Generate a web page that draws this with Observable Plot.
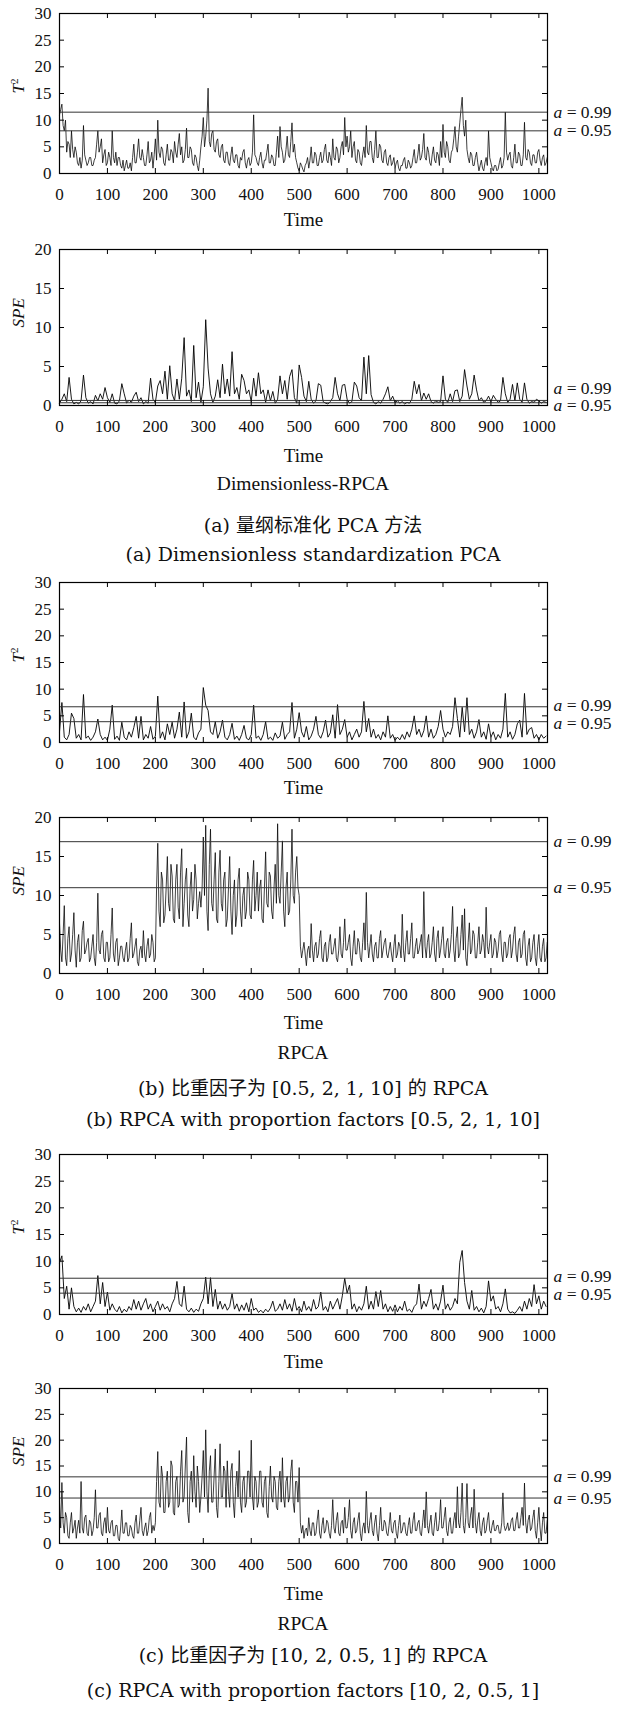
<!DOCTYPE html>
<html><head><meta charset="utf-8">
<script src="https://cdn.jsdelivr.net/npm/d3@7"></script>
<script src="https://cdn.jsdelivr.net/npm/@observablehq/plot@0.6"></script>
<style>
body{margin:0;background:#fff;}
#page{position:relative;width:617px;height:1710px;overflow:hidden;background:#fff;}
.plot{position:absolute;left:0;}
.ttl{position:absolute;left:0;width:606px;text-align:center;white-space:nowrap;line-height:1;transform:translateY(-50%);font-family:'Liberation Serif',serif;font-size:19.5px;color:#111;}
.cap{position:absolute;left:0;width:626px;text-align:center;white-space:nowrap;line-height:1;transform:translateY(-50%);font-family:'DejaVu Serif','Noto Sans CJK SC',serif;font-size:19px;color:#111;}
</style></head><body><div id="page"></div>
<script>
const xTicks = [0,100,200,300,400,500,600,700,800,900,1000];
const yTicks30 = [0,5,10,15,20,25,30];
const yTicks20 = [0,5,10,15,20];

// (a) Dimensionless standardization PCA  (one sample every 2.5 time units)
const t2A = [
11,12,13,9,8,10,4,6,5.5,3,8,4.5,3,5,4,2,1.5,3,1,2.5,9,3.5,2.5,1.5,2,3,3,1.5,1.5,2.5,3,5.5,8,4,5,6.5,2,3.5,4.5,1.5,
2,4,3,1.5,8,3,2,4,1.5,3,3,1.5,1,2.5,0.5,1.5,2.5,1,1,2,0.5,3,5.5,2,2,4,6.5,3,2.5,4.5,3,1.5,1.5,3.5,6,2,2.5,4,1,3.5,
6.5,2.5,10,4,3,5,4.5,2,1.5,3.5,5.5,2.5,2.5,4.5,4,2,6,4,3,5.5,7.5,3.5,5,2,2.5,4.5,8.5,3,3,5,4.5,2,1.5,3.5,3,1.5,0.5,2.5,5,7,
10.5,5,7,10,16,6,5,7.5,8,4.5,4,6,6.5,3.5,3,5,5.5,2.5,2,4,4,2,1.5,3.5,5,2.5,2,3.5,3.5,1.5,1,3,2.5,4,4.5,2,1,2.5,3,1.5,
2,4,11,3.5,3,2,1.5,3,4,2,1,2.5,2.5,4,5.5,2,2,3.5,3,1.5,1.5,4,7,3,8.8,5,4,2,2.5,4.5,7,3.5,3,6,9.5,4,5.5,3,2,1,
0.5,2,1.5,0.8,0.3,1.5,2,3,1,2.5,5,2,2,4,3.5,1.5,1.5,3,4,2,2.5,4.5,5.5,2.5,2,4,3,1.5,6.5,3,2.5,5,4.5,2,3,5,6,3.5,10.5,5,
7,4,5,8,3,5,6,2.5,2,4.5,4,2,1.5,3.5,5,3,9,4,3.5,6,6,3,2,4.5,8,3,3,5.5,5,2.5,2,4,4.5,2,1.5,3,3.5,1.5,2,3,
1,2,2.5,1,0.5,1.5,1.5,2.5,3,1,1,2.5,2,1,1.5,3,4.5,2,2,3.5,5.5,2.5,3,4.5,7.5,3,2.5,5,4,2,1.5,3.5,5,2.5,2,4,3.5,1.5,6,3,
9.2,4,3,6,5,2.5,2,4,4.5,6.5,8.8,5,4,7,9.5,12,14.3,9,7,10,4.5,3,2,4,3.5,1.5,1.5,3,4,2,0.5,1.5,2.5,1,0.5,2,3,1.5,8,3,
2,1,0.5,1.5,1.5,0.5,0.8,2,3,1,1.5,3,11.5,4,2.5,3.5,4,1.5,1,3,5.5,2,2,4,3.5,1.5,1.5,3.5,9.6,3,2.5,4.5,4,2,1.5,3.5,3.5,2,2,4,
4.5,2.5,1.5,3,3.5,1.5,2,3];
const speA = [
0.3,0.8,1.5,0.5,3.6,0.8,0.2,0.4,0.2,0.6,3.9,1,0.3,0.5,0.2,1.3,0.6,1.5,0.8,2.3,
1,0.4,1.5,0.3,0.2,0.6,2.8,1.5,0.3,0.7,0.4,1.2,1.7,0.5,1,0.2,0.5,0.3,3.5,0.8,
0.4,2.5,3.2,1.5,4.4,0.8,5.1,1.5,0.6,3.4,0.8,3.5,8.7,1.2,2,0.5,7.7,1,3,0.4,
2.4,11,4.8,1.5,0.4,1.2,3.3,1,5.3,1.5,3.4,1.2,6.9,1.5,2.3,0.8,4,3.2,1.5,2,
0.5,3.5,1.2,4.2,1.5,2,0.4,2,0.6,1.8,0.3,0.8,3.8,1.5,3.2,0.8,3.7,4.6,1,0.3,
5.2,3.6,1.2,0.5,3.1,0.8,0.3,0.6,2.8,2.6,0.5,0.3,0.2,0.5,1,3.6,1.5,0.6,2.6,2.7,
0.8,0.3,0.5,3,2.5,1,0.6,6.2,1.5,6.4,1.4,0.4,0.2,0.5,0.3,0.8,1.5,2.4,0.6,1.2,
0.4,0.6,0.3,0.5,0.2,0.4,0.3,0.8,3.1,1.5,2.7,0.6,1.6,0.8,1.5,0.5,0.3,0.6,0.4,0.5,
3.8,0.8,0.4,1.5,0.5,1.9,2,0.5,1.2,4.6,2.5,0.8,1.5,3.9,2,0.6,1,0.4,0.6,1.2,
0.5,1.3,0.8,0.4,0.6,3.6,1.5,0.4,0.8,2.7,0.6,2.9,0.8,0.4,2.9,0.8,0.3,0.5,0.4,0.8,
0.6,0.3,0.5,0.4];

// (b) RPCA, proportion factors [0.5, 2, 1, 10]
const t2B = [
2,7.5,1,0.5,1.5,5.5,4.5,0.8,1.5,0.5,9,0.8,1.2,0.4,1,2,4.4,1.5,0.5,1,
0.4,2.5,7,0.6,1.2,0.4,3.8,1,0.5,2,1,2.8,4.9,0.8,4.9,0.5,1.5,0.8,3,0.6,
1.2,8.7,0.8,2,0.5,3.5,1.5,3.8,0.8,2.5,5.7,1,7.6,0.8,2,5.5,1,0.5,1.8,2.5,
10.3,7,6,2,1.5,3.9,0.8,2,4.2,1,0.5,1.5,3.6,0.6,1.2,0.4,1.5,3.2,0.8,0.5,
1.5,7,0.8,1.2,0.4,1.5,3.9,0.6,1,0.4,1.8,0.8,1.2,3.8,0.6,1.5,2,7.5,0.8,2.5,
5.6,2,1,3,0.5,1.2,2.5,4.9,1.5,0.8,2,4.2,1,1.8,5.2,0.8,7.1,1.5,2.5,4.3,
1,2,0.5,1.5,2.5,1,2,7.7,2,4.5,1,2.5,0.8,1.5,0.5,2,1,5,0.8,1.5,
0.4,1,0.5,1.5,0.6,2,1,2.5,5,1.5,2.5,1,2.2,5,1,2.5,0.8,1.5,3,6,
2.5,1,2,1.5,3,8.4,4.5,1,6.6,2,8.4,1.5,2.5,0.8,2,4.3,1,2,0.6,3.5,
1,2,0.5,1.5,0.8,2.5,9.2,1,2,0.6,1.5,3.5,4.2,1,9.2,1.5,2.5,2.8,0.8,1.5,
0.5,1.5,0.8,1.2];
// one sample every 2.5 time units
const speB = [
6.5,3,1.5,5,8.7,2,1,4.5,6,1.5,2.5,5,7.8,3,0.8,4,5,1.5,2,5.5,6.7,2.5,3,4,4.5,1.5,2,3.5,5,2,1,4,10.3,3,2.5,5,5.5,2,1.5,4,
4,1.5,2,5,8.4,2.5,1.5,4,4.5,1,2,3.5,3.5,2,1.5,3,4,1.5,2,4.5,6.5,2,2.5,3.5,4.5,1.5,1,3,3.5,2,5.5,2.5,1.5,3.5,4.5,2,2.5,5,4,1.5,
2,11,16.7,8,6,13,12,6.5,7.5,11,15,9,8,14,12.5,7,6.5,12,14,8.5,7,13,16,6,9,12,13.5,7.5,6,11,13,8,9.5,14,12,7,9,10.5,8.5,11,
17.5,10,19,8,5.5,14,18.5,9,8,12,15.5,7,6.5,13,15.8,9,8,12,13,6,7,11,15,8,5,10,12,6,7.5,12,13.5,8,6,10,11,7,8,13,12,7.5,
7,12,14.5,8,10,13,8,11,12,7,6.5,11,15.6,9,8.5,13,12.5,8,7,11,14,9,19.2,10,9,13,17,8,6,11,13,7.5,8,12,18.5,10,9,13,15,11,
10,3.5,2,3,4,2.5,1,3,3.5,2,6.4,3,1.5,3.5,4,2,2.5,4.5,5.5,2,1.5,3.5,4,1.5,2,4,5,2.5,2.5,3.5,4.5,2,1.5,3,6,2.5,2,4,7,3,
3,4,5,2,1,3.5,5.5,2.5,2.5,4.5,4,2,1.5,4,6.5,3,10.4,4,2,3.5,5,2.5,1.5,3.5,4,2,2,4.5,5.5,2,3,4,4.5,2.5,2,3,4,2.5,1.5,3.5,
5,2,2.5,4,3.5,2,7.6,3,1.5,4,5.5,2.5,2.5,4.5,6.5,2,2,3.5,4.5,2.5,3,4,5,2,10.5,3.5,2,4,5,2,2.5,4,6,2.5,1.5,4.5,5.5,2,3,4.5,
6,2.5,2,4,4.5,2,3,5,8.6,3,1.5,4.5,6,2,2.5,5,7.5,3,8.3,2,1,4,6.5,2.5,3,5.5,5,2,2,4,6,2.5,3,5,4,2,8.5,3.5,2.5,4,
5,2,2.5,4.5,4,2,3,5,5.5,2.5,1.5,4,4,2,2.5,4.5,5,2,3,5,6,2.5,1.5,4,4.5,2,2.5,5,5.5,2,1,3.5,4.5,1.5,2,4,5,2,1,3.5,
5,2,1.5,3.5,4.5,1.5,2,4];

// (c) RPCA, proportion factors [10, 2, 0.5, 1]
const t2C = [
9.7,11,3,5.3,1,5,1.5,0.5,1.2,0.4,1.5,0.8,2,0.5,1.5,2.5,7.3,2,6,1.5,
4.2,0.8,2,1,0.5,1.5,0.3,1,0.5,1.5,0.8,2.8,1,2.5,0.8,2,3,1,2,0.5,
1.5,2.5,0.8,2,1,1.5,0.5,2,3,6.2,2,1.5,5.3,1,0.5,1.2,0.4,1,0.6,2,
3,7,2,6.9,1.5,4.7,1,2.5,1,2,0.8,1.5,3.9,1,2,0.6,1.8,0.8,2.2,0.5,
3,0.8,1.2,0.4,0.8,0.3,1,0.5,1.2,2.5,0.6,1,2,0.8,2.8,1,2,0.6,3,0.8,
1.5,0.5,2.5,0.8,1.5,0.6,2.8,1,1.5,4.2,0.8,1.5,0.5,2.5,1,2,3,1,3.5,6.8,
4,5.5,1,2,0.5,1.5,0.8,2,5.3,1,2.5,1,4.3,1.5,4.5,1,2,0.5,1.5,0.6,
1.8,0.5,1.5,0.8,2.5,0.6,1,0.4,1.5,2,5.7,1,2.5,1.5,3,4.7,1,2,0.8,2.5,
5.5,1,2,0.8,1.5,3,2,9.8,12,6,2.5,1,4.5,0.8,1.5,0.5,1.2,0.3,1.5,6.3,
2.5,3.5,1,1.5,0.5,2,4.8,1,0.3,0.5,0.2,0.8,1.5,0.6,2.5,1,3,1.5,5.6,2,
3.5,1,2.5,1.5];
// one sample every 2.5 time units
const speC = [
8,3,11.8,4,2,6,5,1.5,1,4,6,2,3,4.5,1,3,4.5,2,12,3,2,5,5.5,2,1.5,4.5,4,1.5,2.5,5,10.4,3,3,5.5,6,2,1.5,4,5,2,
7,2.5,2,4,4.5,1.5,1.5,3.5,3.5,1,0.5,3,6.5,2,2,4,4,1.5,1.5,3.5,3,1.5,1,4,5.5,2,2,4.5,7,2.5,1.5,3,4,1.5,2.5,5,6,2,3.5,2.5,
4,12,17.8,8,7,15,13,6,6,12,14,7,8,16,15,6,5.5,12,13,7,7.5,14,18,8,9,15,20.6,6,4,12,14,8,17,10,7,15,12,6,9,13,
18,9,22,10,6,14,17,8,8,13,18.3,7,5,12,19.3,9,9,15,14,7,16,10,7,14,15.5,8,5,11,14,9,18,8,6,12,13,7,8,14,14,9,
20,9,6.5,13,12,7,8,14,14,8,7,12,13,6,5,11,15,9,8,13,12,7,6.5,12,14,8,16.6,9,7,12,13,8,9,14,16.2,8,6,12,12,8,
14.7,4,2,3.5,1,2.5,3,1.5,5,2.5,1.5,4,4,1.5,2,4.5,6.5,2,1,3.5,5,2,2.5,4.5,4,2,1,3.5,8.5,3,2,4.5,6,2,1.5,4,4.5,2,7,3,
3,5,8.5,2.5,1,4,5,2,2.5,4.5,6,2,0.5,3,4,2,10.1,3.5,2,4.5,6,2.5,1.5,4,5.5,2,0.5,3.5,7,2.5,2.5,4.5,4,2,1.5,3.5,6,2.5,2,4,
4.5,2,1,3.5,5.5,2,2.5,4,4,2,1.5,3.5,5,2,2,4.5,6,2.5,2.5,4,4.5,2,1.5,4,6.5,3,10,3.5,2,4,5.5,2,1.5,4,6,2.5,2.5,4.5,8.5,3,
3,5,7,2.5,1.5,4,5,2,2,4.5,6,3,11,4,3,6,11.7,3.5,2,5,11.6,4,3,5.5,7,3,10.5,4,2,4.5,6,2.5,1.5,4,5,2,2.5,4.5,6,2.5,
2,3.5,4.5,2.5,2.5,3.5,3.5,2,2,4,9.8,3.5,2.5,3,4,2.5,3,4.5,5,2.5,2.5,4.5,6,3,3,5,7,3.5,11.7,4,2,4.5,5.5,2.5,3,5,6.5,2.5,1,4,
7,3,0.5,4,6,2,2,4.5];

const panels = [
  {top:13,   fh:160, yMax:30, yTicks:yTicks30, values:t2A,  step:2.5, sw:0.75, th:[11.5,8.0],  yLabel:"T2",  timeDy:52, dys:[0,0]},
  {top:249,  fh:156, yMax:20, yTicks:yTicks20, values:speA, step:5,   sw:0.9,  th:[0.65,0.35], yLabel:"SPE", timeDy:56, dys:[-12,3]},
  {top:582,  fh:160, yMax:30, yTicks:yTicks30, values:t2B,  step:5,   sw:0.9,  th:[6.7,3.9],   yLabel:"T2",  timeDy:51, dys:[-1.5,1.5]},
  {top:817,  fh:156, yMax:20, yTicks:yTicks20, values:speB, step:2.5, sw:0.75, th:[16.9,11.0], yLabel:"SPE", timeDy:55, dys:[0,0]},
  {top:1154, fh:160, yMax:30, yTicks:yTicks30, values:t2C,  step:5,   sw:0.9,  th:[6.8,4.0],   yLabel:"T2",  timeDy:53, dys:[-1.5,1.5]},
  {top:1388, fh:155, yMax:30, yTicks:yTicks30, values:speC, step:2.5, sw:0.75, th:[12.9,8.8],  yLabel:"SPE", timeDy:56, dys:[0,0]}
];
const thLabels = ["a = 0.99", "a = 0.95"];

const titles = [
  {y:484,  text:"Dimensionless-RPCA", cls:"ttl"},
  {y:525,  text:"(a) 量纲标准化 PCA 方法", cls:"cap"},
  {y:554,  text:"(a) Dimensionless standardization PCA", cls:"cap"},
  {y:1053, text:"RPCA", cls:"ttl"},
  {y:1088, text:"(b) 比重因子为 [0.5, 2, 1, 10] 的 RPCA", cls:"cap"},
  {y:1119, text:"(b) RPCA with proportion factors [0.5, 2, 1, 10]", cls:"cap"},
  {y:1624, text:"RPCA", cls:"ttl"},
  {y:1655, text:"(c) 比重因子为 [10, 2, 0.5, 1] 的 RPCA", cls:"cap"},
  {y:1690, text:"(c) RPCA with proportion factors [10, 2, 0.5, 1]", cls:"cap"}
];

const page = document.getElementById("page");
const MT = 12, MB = 70, ML = 59, MR = 70, W = 617;
const FW = W - ML - MR;

panels.forEach(p => {
  const FH = p.fh;
  const data = p.values.map((v, i) => ({t: i * p.step, v}));
  const marks = [
    Plot.line(data, {x: "t", y: "v", stroke: "#000", strokeWidth: p.sw}),
    Plot.ruleY([p.th[0]], {stroke: "#333", strokeWidth: 1}),
    Plot.ruleY([p.th[1]], {stroke: "#333", strokeWidth: 1}),
    Plot.tickX(xTicks, {x: d => d, insetTop: FH - 5, stroke: "#000"}),
    Plot.tickX(xTicks, {x: d => d, insetBottom: FH - 5, stroke: "#000"}),
    Plot.tickY(p.yTicks, {y: d => d, insetRight: FW - 5, stroke: "#000"}),
    Plot.tickY(p.yTicks, {y: d => d, insetLeft: FW - 5, stroke: "#000"}),
    Plot.frame({stroke: "#000", strokeWidth: 1.2}),
    Plot.axisX({ticks: xTicks, tickSize: 0, tickPadding: 14, label: null, fontSize: 17, tickFormat: d => String(d)}),
    Plot.axisY({ticks: p.yTicks, tickSize: 0, tickPadding: 8, label: null, fontSize: 17, tickFormat: d => String(d)}),
    Plot.text(["Time"], {frameAnchor: "bottom", dy: p.timeDy, fontSize: 19}),
    Plot.text([p.yLabel], {frameAnchor: "left", dx: -41, rotate: -90, fontSize: 17, fontStyle: p.yLabel === "SPE" ? "italic" : "normal"}),
    Plot.text([p.th[0]], {y: d => d, text: () => thLabels[0], frameAnchor: "right", dx: 6, dy: p.dys[0], textAnchor: "start", fontSize: 17.5}),
    Plot.text([p.th[1]], {y: d => d, text: () => thLabels[1], frameAnchor: "right", dx: 6, dy: p.dys[1], textAnchor: "start", fontSize: 17.5})
  ];
  const svg = Plot.plot({
    width: W, height: MT + FH + MB,
    marginTop: MT, marginBottom: MB, marginLeft: ML, marginRight: MR,
    x: {domain: [0, 1018]},
    y: {domain: [0, p.yMax]},
    style: {fontFamily: "'Liberation Serif', serif", fontSize: "17px", color: "#111", background: "white", overflow: "visible"},
    marks
  });
  d3.select(svg).selectAll("text").each(function() {
    const s = d3.select(this);
    const c = this.textContent;
    if (c === "T2") {
      s.text(null);
      s.append("tspan").attr("font-style", "italic").text("T");
      s.append("tspan").attr("font-size", "11px").attr("dy", "-0.55em").text("2");
    } else if (c.startsWith("a = ")) {
      s.text(null);
      s.append("tspan").attr("font-style", "italic").text("a");
      s.append("tspan").text(" = " + c.slice(4));
    }
  });
  svg.classList.add("plot");
  svg.style.top = (p.top - MT) + "px";
  page.appendChild(svg);
});

titles.forEach(t => {
  const d = document.createElement("div");
  d.className = t.cls;
  d.style.top = t.y + "px";
  d.textContent = t.text;
  page.appendChild(d);
});
</script></body></html>
